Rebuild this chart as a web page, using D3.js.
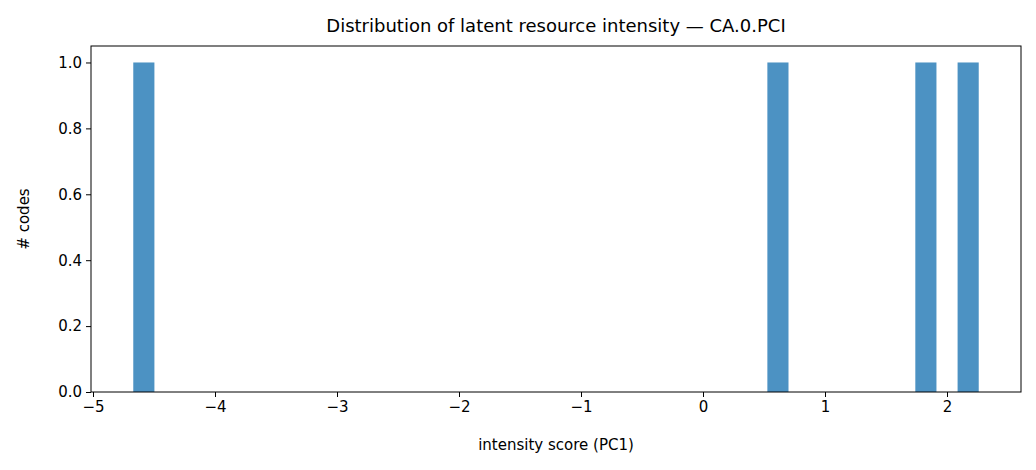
<!DOCTYPE html>
<html>
<head>
<meta charset="utf-8">
<script src="https://cdn.jsdelivr.net/npm/d3@7"></script>
<style>
  body { margin: 0; background: #fff; }
  text { font-family: "DejaVu Sans", sans-serif; }
</style>
</head>
<body>
<svg id="chart" width="1036" height="470"></svg>
<script>
// intensity scores (PC1) of the codes
const scores = [-4.67, 0.6, 1.8, 2.26];
const binCount = 40;
const xTicks = [-5, -4, -3, -2, -1, 0, 1, 2];
const yTicks = [0, 0.2, 0.4, 0.6, 0.8, 1.0];

const margin = { top: 46, right: 15, bottom: 78, left: 91 };
const width = 1036 - margin.left - margin.right;
const height = 470 - margin.top - margin.bottom;

const svg = d3.select("#chart");
const g = svg.append("g").attr("transform", "translate(" + margin.left + "," + margin.top + ")");

// bin edges like numpy: equal width between min and max
const lo = d3.min(scores), hi = d3.max(scores);
const step = (hi - lo) / binCount;
const edges = d3.range(binCount + 1).map((i) => lo + i * step);
const bins = d3.bin().domain([lo, hi]).thresholds(edges.slice(1, -1))(scores);

const pad = (hi - lo) * 0.05;
const x = d3.scaleLinear().domain([lo - pad, hi + pad]).range([0, width]);
const y = d3.scaleLinear().domain([0, 1.05]).range([height, 0]);

g.selectAll("rect")
  .data(bins.filter((b) => b.length > 0))
  .enter()
  .append("rect")
  .attr("x", (d) => x(d.x0))
  .attr("y", (d) => y(d.length))
  .attr("width", (d) => x(d.x1) - x(d.x0))
  .attr("height", (d) => height - y(d.length))
  .attr("fill", "#1f77b4")
  .attr("fill-opacity", 0.8);

const fmt = (v) => (v < 0 ? "\u2212" + Math.abs(v) : String(v));
const xAxis = g.append("g").attr("transform", "translate(0," + height + ")")
  .call(d3.axisBottom(x).tickValues(xTicks).tickFormat(fmt).tickSize(5).tickPadding(4));
const yAxis = g.append("g")
  .call(d3.axisLeft(y).tickValues(yTicks).tickFormat(d3.format(".1f")).tickSize(5).tickPadding(4));
[xAxis, yAxis].forEach((a) => {
  a.select(".domain").remove();
  a.selectAll("text").attr("font-size", 15).attr("fill", "#000").style("font-family", "DejaVu Sans");
  a.selectAll("line").attr("stroke", "#000");
});

g.append("rect").attr("width", width).attr("height", height)
  .attr("fill", "none").attr("stroke", "#000").attr("stroke-width", 1);

svg.append("text").attr("x", margin.left + width / 2).attr("y", 32)
  .attr("text-anchor", "middle").attr("font-size", 18)
  .text("Distribution of latent resource intensity \u2014 CA.0.PCI");
svg.append("text").attr("x", margin.left + width / 2).attr("y", 450)
  .attr("text-anchor", "middle").attr("font-size", 15)
  .text("intensity score (PC1)");
svg.append("text").attr("transform", "translate(29," + (margin.top + height / 2) + ") rotate(-90)")
  .attr("text-anchor", "middle").attr("font-size", 15)
  .text("# codes");
</script>
</body>
</html>
